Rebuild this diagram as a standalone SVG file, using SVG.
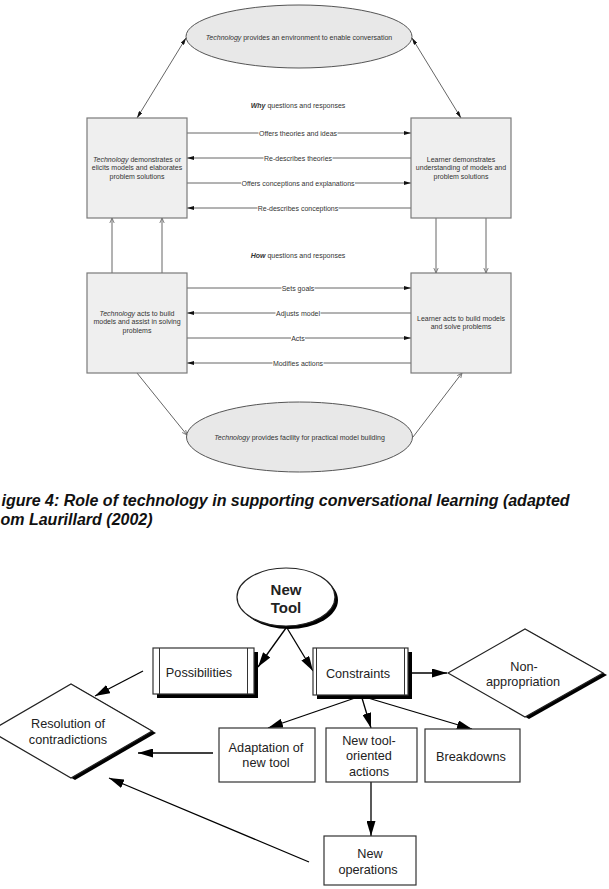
<svg xmlns="http://www.w3.org/2000/svg" width="609" height="889" viewBox="0 0 609 889">
<style>
.t{font-family:"Liberation Sans",Arial,sans-serif;font-size:7px;fill:#333;text-anchor:middle}
.i{font-style:italic}
.bi{font-weight:bold;font-style:italic}
.gbox{fill:#efefef;stroke:#7a7a7a;stroke-width:1.2}
.gell{fill:#e8e8e8;stroke:#555;stroke-width:1}
.gl{stroke:#666;stroke-width:1;fill:none}
.lbg{fill:#fff}
.b{font-family:"Liberation Sans",Arial,sans-serif;font-size:12.7px;fill:#222;text-anchor:middle}
.wbox{fill:#fff;stroke:#333;stroke-width:1.2}
.shadow{fill:#000}
.bl{stroke:#000;stroke-width:1.3;fill:none}
.cap{font-family:"Liberation Sans",Arial,sans-serif;font-size:16px;font-weight:bold;font-style:italic;fill:#111}
</style>
<defs>
<marker id="ah" markerUnits="userSpaceOnUse" markerWidth="7" markerHeight="4" refX="7" refY="2" orient="auto-start-reverse"><path d="M0,0 L7,2 L0,4 z" fill="#111"/></marker>
<marker id="oh" markerUnits="userSpaceOnUse" markerWidth="6" markerHeight="6" refX="5" refY="3" orient="auto"><path d="M0,0.8 L5,3 L0,5.2" fill="none" stroke="#666" stroke-width="0.8"/></marker>
<marker id="big" markerUnits="userSpaceOnUse" markerWidth="15" markerHeight="9" refX="15" refY="4.5" orient="auto"><path d="M0,0 L15,4.5 L0,9 z" fill="#000"/></marker>
</defs>
<rect width="609" height="889" fill="#fff"/>

<!-- top diagram connectors -->
<g id="connectors-top">
<line class="gl" x1="186" y1="38" x2="137" y2="118" marker-start="url(#ah)" marker-end="url(#ah)"/>
<line class="gl" x1="412" y1="38" x2="461" y2="118" marker-start="url(#ah)" marker-end="url(#ah)"/>
<line class="gl" x1="137" y1="373" x2="187" y2="435" marker-end="url(#oh)"/>
<line class="gl" x1="413" y1="437" x2="462" y2="373" marker-end="url(#oh)"/>
<line class="gl" x1="112" y1="273" x2="112" y2="218" marker-end="url(#oh)"/>
<line class="gl" x1="162" y1="273" x2="162" y2="218" marker-end="url(#oh)"/>
<line class="gl" x1="436" y1="218" x2="436" y2="273" marker-end="url(#oh)"/>
<line class="gl" x1="486" y1="218" x2="486" y2="273" marker-end="url(#oh)"/>
<line class="gl" x1="187" y1="133" x2="411" y2="133" marker-end="url(#ah)"/>
<line class="gl" x1="411" y1="158" x2="187" y2="158" marker-end="url(#ah)"/>
<line class="gl" x1="187" y1="183" x2="411" y2="183" marker-end="url(#ah)"/>
<line class="gl" x1="411" y1="208" x2="187" y2="208" marker-end="url(#ah)"/>
<line class="gl" x1="187" y1="288" x2="411" y2="288" marker-end="url(#ah)"/>
<line class="gl" x1="411" y1="313" x2="187" y2="313" marker-end="url(#ah)"/>
<line class="gl" x1="187" y1="338" x2="411" y2="338" marker-end="url(#ah)"/>
<line class="gl" x1="411" y1="363" x2="187" y2="363" marker-end="url(#ah)"/>
<rect class="lbg" x="258.5" y="129" width="79" height="8"/>
<rect class="lbg" x="263.5" y="154" width="69" height="8"/>
<rect class="lbg" x="241" y="179" width="114" height="8"/>
<rect class="lbg" x="257.5" y="204" width="81" height="8"/>
<rect class="lbg" x="281.5" y="284" width="33" height="8"/>
<rect class="lbg" x="275.5" y="309" width="45" height="8"/>
<rect class="lbg" x="291" y="334" width="14" height="8"/>
<rect class="lbg" x="272.5" y="359" width="51" height="8"/>
<text class="t" x="298" y="135.5">Offers theories and ideas</text>
<text class="t" x="298" y="160.5">Re-describes theories</text>
<text class="t" x="298" y="185.5">Offers conceptions and explanations</text>
<text class="t" x="298" y="210.5">Re-describes conceptions</text>
<text class="t" x="298" y="290.5">Sets goals</text>
<text class="t" x="298" y="315.5">Adjusts model</text>
<text class="t" x="298" y="340.5">Acts</text>
<text class="t" x="298" y="365.5">Modifies actions</text>
</g>

<g id="env-ellipse">
<ellipse class="gell" cx="299" cy="36.5" rx="113" ry="31.5"/>
<text class="t" x="299" y="39.5"><tspan class="i">Technology</tspan> provides an environment to enable conversation</text>
</g>
<text class="t" x="298" y="107.5"><tspan class="bi">Why</tspan> questions and responses</text>
<text class="t" x="298" y="257.5"><tspan class="bi">How</tspan> questions and responses</text>

<g id="tech-demonstrates">
<rect class="gbox" x="87" y="118" width="100" height="100"/>
<text class="t" x="137" y="161.5"><tspan class="i">Technology</tspan> demonstrates or</text>
<text class="t" x="137" y="170">elicits models and elaborates</text>
<text class="t" x="137" y="178.5">problem solutions</text>
</g>
<g id="learner-demonstrates">
<rect class="gbox" x="411" y="118" width="100" height="100"/>
<text class="t" x="461" y="161.5">Learner demonstrates</text>
<text class="t" x="461" y="170">understanding of models and</text>
<text class="t" x="461" y="178.5">problem solutions</text>
</g>
<g id="tech-acts">
<rect class="gbox" x="87" y="273" width="100" height="100"/>
<text class="t" x="137" y="315.5"><tspan class="i">Technology</tspan> acts to build</text>
<text class="t" x="137" y="324">models and assist in solving</text>
<text class="t" x="137" y="332.5">problems</text>
</g>
<g id="learner-acts">
<rect class="gbox" x="411" y="273" width="100" height="100"/>
<text class="t" x="461" y="320.5">Learner acts to build models</text>
<text class="t" x="461" y="329">and solve problems</text>
</g>
<g id="facility-ellipse">
<ellipse class="gell" cx="299.5" cy="437" rx="113" ry="35"/>
<text class="t" x="299.5" y="439.5"><tspan class="i">Technology</tspan> provides facility for practical model building</text>
</g>

<text class="cap" x="1.5" y="506">igure 4: Role of technology in supporting conversational learning (adapted</text>
<text class="cap" x="0.5" y="525">om Laurillard (2002)</text>

<!-- bottom diagram connectors -->
<g id="connectors-bottom">
<line class="bl" x1="286" y1="628" x2="258" y2="667" marker-end="url(#big)"/>
<line class="bl" x1="287" y1="628" x2="313" y2="671" marker-end="url(#big)"/>
<line class="bl" x1="412" y1="673" x2="447" y2="673" marker-end="url(#big)"/>
<line class="bl" x1="143" y1="671" x2="95" y2="696" stroke-width="1.8" marker-end="url(#big)"/>
<line class="bl" x1="355" y1="698" x2="268" y2="728" marker-end="url(#big)"/>
<line class="bl" x1="362" y1="698" x2="371" y2="728" marker-end="url(#big)"/>
<line class="bl" x1="368" y1="698" x2="472" y2="729" marker-end="url(#big)"/>
<line class="bl" x1="213" y1="753" x2="138" y2="753" marker-end="url(#big)"/>
<line class="bl" x1="371" y1="782" x2="371" y2="836" marker-end="url(#big)"/>
<line class="bl" x1="309" y1="862" x2="109" y2="778" stroke-width="1.8" marker-end="url(#big)"/>
</g>

<g id="new-tool">
<ellipse class="shadow" cx="289" cy="600" rx="49" ry="29"/>
<ellipse cx="286" cy="597" rx="49" ry="29" fill="#fff" stroke="#222" stroke-width="1.2"/>
<text class="b" x="286" y="594.5" style="font-weight:bold;font-size:15px">New</text>
<text class="b" x="286" y="612.5" style="font-weight:bold;font-size:15px">Tool</text>
</g>
<g id="possibilities">
<rect class="shadow" x="157" y="652" width="101" height="46"/>
<rect class="wbox" x="153" y="648" width="101" height="46"/>
<line x1="159.5" y1="648" x2="159.5" y2="694" stroke="#333" stroke-width="1"/>
<line x1="247.5" y1="648" x2="247.5" y2="694" stroke="#333" stroke-width="1"/>
<text class="b" x="199" y="676.5">Possibilities</text>
</g>
<g id="constraints">
<rect class="shadow" x="317" y="652" width="95" height="47"/>
<rect class="wbox" x="313" y="648" width="95" height="47"/>
<line x1="316.5" y1="648" x2="316.5" y2="695" stroke="#333" stroke-width="1"/>
<line x1="404.5" y1="648" x2="404.5" y2="695" stroke="#333" stroke-width="1"/>
<text class="b" x="358" y="677.5">Constraints</text>
</g>
<g id="non-appropriation">
<polygon class="shadow" points="452,675 529,631 607,675 529,719"/>
<polygon points="448,673 525,629 603,673 525,717" fill="#fff" stroke="#222" stroke-width="1.2"/>
<text class="b" x="524" y="670.5">Non-</text>
<text class="b" x="523" y="686">appropriation</text>
</g>
<g id="resolution">
<polygon class="shadow" points="-6,733 75,686 156,733 75,780"/>
<polygon points="-10,731 71,684 152,731 71,778" fill="#fff" stroke="#222" stroke-width="1.2"/>
<text class="b" x="68" y="728">Resolution of</text>
<text class="b" x="68" y="744">contradictions</text>
</g>
<g id="adaptation">
<rect class="wbox" x="219" y="728" width="96" height="54"/>
<text class="b" x="266" y="752.4">Adaptation of</text>
<text class="b" x="266" y="767.4">new tool</text>
</g>
<g id="new-tool-actions">
<rect class="wbox" x="326" y="728" width="91" height="54"/>
<text class="b" x="369" y="744.7">New tool-</text>
<text class="b" x="369" y="760.4">oriented</text>
<text class="b" x="369" y="776.4">actions</text>
</g>
<g id="breakdowns">
<rect class="wbox" x="425" y="729" width="95" height="53"/>
<text class="b" x="471" y="761.4">Breakdowns</text>
</g>
<g id="new-operations">
<rect class="wbox" x="324" y="836" width="92" height="49"/>
<text class="b" x="370" y="858">New</text>
<text class="b" x="368" y="874">operations</text>
</g>
</svg>
